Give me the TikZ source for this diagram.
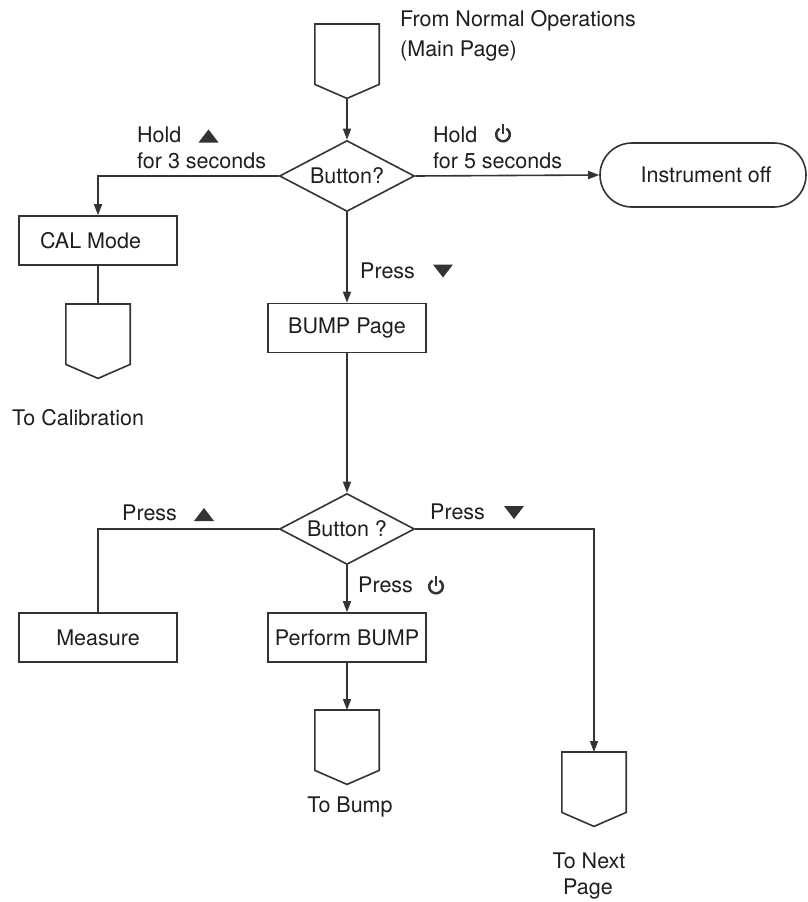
\documentclass[tikz,border=0pt]{standalone}
\usepackage{fontspec}
\setmainfont{TeX Gyre Heros}
\usetikzlibrary{shapes.geometric,arrows.meta,calc}
\definecolor{ink}{HTML}{333333}
\definecolor{txt}{HTML}{1E1E1E}
\newcommand\pwricon[2]{%
  \begin{scope}[shift={(#1,#2)},x=1pt,y=1pt]
    \draw[ink,line width=2.5pt] (120:6.8) arc[start angle=120,end angle=420,radius=6.8];
    \draw[ink,line width=2.5pt] (0,0.5) -- (0,10.5);
  \end{scope}}
\newcommand\uptri[2]{%
  \begin{scope}[shift={(#1,#2)},x=1pt,y=1pt]
    \fill[ink] (-10,-6.5) -- (10,-6.5) -- (0,6.5) -- cycle;
  \end{scope}}
\newcommand\dntri[2]{%
  \begin{scope}[shift={(#1,#2)},x=1pt,y=1pt]
    \fill[ink] (-10,6.5) -- (10,6.5) -- (0,-6.5) -- cycle;
  \end{scope}}
\newcommand\offpg[3]{%
  \node[conn] (#1) at (#2,#3) {};
  \draw[ln,line join=miter] (#1.north west) -- (#1.north east) -- ([yshift=14pt]#1.south east)
     -- (#1.south) -- ([yshift=14pt]#1.south west) -- cycle;}
\begin{document}
\begin{tikzpicture}[x=1pt,y=-1pt,
  every node/.style={font=\fontsize{21.5}{25}\selectfont, text=txt},
  ln/.style={draw=ink, line width=1.6pt},
  box/.style={ln, rectangle, minimum width=158pt, minimum height=49pt, inner sep=0pt},
  dec/.style={ln, diamond, aspect=1.9, minimum width=135pt, minimum height=71pt, inner sep=0pt},
  term/.style={ln, rectangle, rounded corners=32pt, minimum width=206pt, minimum height=64pt, inner sep=0pt},
  conn/.style={rectangle, draw=none, minimum width=64pt, minimum height=74pt, inner sep=0pt, anchor=north},
  lbl/.style={anchor=base west, inner sep=0pt},
  clbl/.style={anchor=base, inner sep=0pt},
  arr/.style={ln, -{Triangle[length=11pt,width=8pt]}},
  lnk/.style={ln}
]
\useasboundingbox (0,0) rectangle (807,902);

% off-page connectors
\offpg{cfrom}{347}{24}
\offpg{ccal}{98}{304}
\offpg{cbump}{347}{710}
\offpg{cnext}{594}{752}

% main shapes
\node[dec] (d1) at (347,176) {Button?};
\node[term] (off) at (703,175) {\hspace*{6pt}Instrument off};
\node[box] (cal) at (98,240.5) {CAL Mode\hspace*{15pt}};
\node[box] (bump) at (347,328) {BUMP Page};
\node[dec] (d2) at (347,529) {Button ?};
\node[box] (meas) at (98,637.5) {Measure};
\node[box] (perf) at (347,637.5) {Perform BUMP};

% connectors
\draw[arr] (cfrom.south) -- (d1.north);
\draw[arr] (d1.west) -| (cal.north);
\draw[arr] (d1.east) -- (off.west);
\draw[arr] (d1.south) -- (bump.north);
\draw[lnk] (cal.south) -- (ccal.north);
\draw[arr] (bump.south) -- (d2.north);
\draw[lnk] (d2.west) -| (meas.north);
\draw[arr] (d2.south) -- (perf.north);
\draw[arr] (perf.south) -- (cbump.north);
\draw[arr] (d2.east) -| (cnext.north);

% texts
\node[lbl] (t1) at (400,26) {From Normal Operations};
\node[lbl] (t2) at (400,56) {(Main Page)};
\node[lbl] (t3) at (137,142) {Hold};
\node[lbl] (t4) at (137,168) {for 3 seconds};
\node[lbl] (t5) at (433,142) {Hold};
\node[lbl] (t6) at (433,168) {for 5 seconds};
\node[lbl] (t7) at (12,425) {To Calibration};
\node[lbl] (t8) at (360,278) {Press};
\node[lbl] (t9) at (122,520) {Press};
\node[lbl] (t10) at (430,519) {Press};
\node[lbl] (t11) at (358,592) {Press};
\node[clbl] (t12) at (350,812) {To Bump};
\node[clbl] (t13) at (589,868) {To Next};
\node[clbl] (t14) at (588,894) {Page};

% button icons
\uptri{208.5}{136}
\pwricon{503}{134.5}
\dntri{443}{271}
\uptri{204}{514.5}
\dntri{514}{512.5}
\pwricon{436}{586.5}
\end{tikzpicture}
\end{document}
